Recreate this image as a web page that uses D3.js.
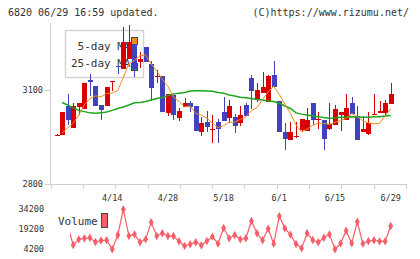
<!DOCTYPE html>
<html>
<head>
<meta charset="utf-8">
<script src="https://cdnjs.cloudflare.com/ajax/libs/d3/7.8.5/d3.min.js"></script>
<style>
  body { margin: 0; background: #fff; }
  text { font-family: "DejaVu Sans Mono", monospace; fill: #333; }
</style>
</head>
<body>
<svg width="420" height="259"></svg>
<script>
// trading days 3/31 .. 6/29
var dates = ["3/31","4/1","4/2","4/3","4/6","4/7","4/8","4/9","4/10","4/13",
  "4/14","4/15","4/16","4/17","4/20","4/21","4/22","4/23","4/24","4/27",
  "4/28","4/30","5/1","5/7","5/8","5/11","5/12","5/13","5/14","5/15",
  "5/18","5/19","5/20","5/21","5/22","5/25","5/26","5/27","5/28","5/29",
  "6/1","6/2","6/3","6/4","6/5","6/8","6/9","6/10","6/11","6/12",
  "6/15","6/16","6/17","6/18","6/19","6/22","6/23","6/24","6/25","6/26","6/29"];
var openP  = [2955,2956,3049,2979,3046,3039,3132,3113,3052,3049,3127,3177,3167,3199,3247,3189,3237,3183,3143,3145,
  3027,3084,3011,3046,3059,3049,2966,2998,2975,2998,3030,3011,3014,2995,3052,3138,3071,3090,3062,3148,
  3065,2966,2940,2952,2972,2969,3059,3006,3004,2976,2988,3020,3004,3059,3017,2966,2960,3022,3027,3027,3055];
var highP  = [2958,3030,3087,3059,3059,3122,3151,3113,3052,3110,3129,3177,3301,3307,3247,3221,3237,3193,3164,3145,
  3087,3084,3043,3074,3065,3049,3014,3033,3020,3007,3078,3068,3023,3049,3059,3148,3122,3157,3148,3193,
  3065,2995,2998,2998,3007,3043,3059,3030,3004,3059,3052,3030,3087,3078,3049,3017,3030,3087,3065,3068,3122];
var lowP   = [2955,2956,2988,2979,3020,3039,3081,3049,3004,3049,3097,3151,3167,3199,3141,3170,3189,3065,3122,3030,
  3017,3004,3001,3046,3030,2969,2953,2966,2931,2931,3001,2995,2963,2985,3017,3039,3062,3090,3062,3110,
  2966,2909,2940,2947,2966,2969,2988,2976,2909,2972,2988,2969,3004,3023,2940,2966,2956,3022,3027,3020,3055];
var closeP = [2957,3030,3004,3049,3059,3122,3126,3049,3036,3110,3129,3173,3253,3253,3167,3199,3189,3106,3146,3030,
  3087,3020,3033,3059,3046,2969,2995,2982,2977,2976,3001,3049,2985,3020,3017,3097,3100,3110,3145,3110,
  2966,2944,2966,2954,3007,3004,3004,3008,2944,2991,3039,3030,3043,3023,2940,2976,2995,3024,3033,3059,3087];
// moving averages (null = not drawn)
var ma5 = [null,2962,2979,2994,3020,3053,3072,3081,3078,3089,3090,3099,3140,3184,3195,3209,3212,3183,3161,3134,
  3112,3078,3063,3046,3049,3025,3020,3010,2994,2980,2986,2997,2998,3006,3014,3034,3044,3069,3094,3112,
  3086,3055,3026,2988,2967,2975,2987,2995,2993,2990,2997,3002,3009,3025,3015,3002,2995,2992,2994,3017,3040];
var ma25 = [null,3060,3052,3043,3035,3031,3027,3026,3027,3030,3035,3041,3046,3052,3059,3060,3063,3068,3073,3076,
  3082,3087,3090,3092,3097,3098,3098,3097,3096,3092,3090,3084,3081,3077,3075,3073,3070,3068,3065,3063,
  3058,3049,3041,3027,3023,3020,3017,3015,3012,3010,3011,3013,3014,3015,3014,3013,3013,3015,3015,3017,3019];
var volume = [null,null,22000,7200,11500,12300,12700,9500,10600,10900,4000,14800,34200,14000,15300,9300,11500,24400,14000,16100,
  14000,14000,10000,6500,7800,9300,7000,10200,13500,8200,20100,12300,14800,11500,12300,25400,16100,10800,19500,8200,
  29100,19800,15000,8000,4700,16100,11000,9300,12700,15300,4000,8500,18000,8500,24800,8200,10200,10800,10000,10000,21600];
var dateTicks = ["4/14","4/28","5/18","6/1","6/15","6/29"];
var priceTicks = [2800, 3100];
var volTicks = [4200, 19200, 34200];

var svg = d3.select("svg");
var red = "#d80000", blue = "#4242bd", orange = "#f08c1a", green = "#1ea51e", volColor = "#f55f69";

var x = d3.scaleLinear().domain([0, dates.length - 1]).range([56.5, 390.7]);
var y = d3.scaleLinear().domain([2800, 3100]).range([184, 90]);
var yv = d3.scaleLinear().domain([4200, 34200]).range([249, 209.3]);
var grid = d3.scaleLinear().domain([0, 11]).range([50.7, 405.9]);

// header
svg.append("text").attr("x", 8).attr("y", 16).attr("font-size", "10px").text("6820 06/29 16:59 updated.");
svg.append("text").attr("x", 409).attr("y", 16).attr("font-size", "10px").attr("text-anchor", "end")
  .text("(C)https://www.rizumu.net/");

// axes
var axisG = svg.append("g").attr("stroke", "#cfcfcf").attr("stroke-width", 1).attr("shape-rendering", "crispEdges");
axisG.append("line").attr("x1", 50.5).attr("x2", 50.5).attr("y1", 23).attr("y2", 184);
axisG.append("line").attr("x1", 45).attr("x2", 406).attr("y1", 184.5).attr("y2", 184.5);
axisG.append("line").attr("x1", 45).attr("x2", 50.5).attr("y1", y(3100) + 0.5).attr("y2", y(3100) + 0.5);
axisG.selectAll(".gt").data(d3.range(12)).enter().append("line")
  .attr("x1", function(d){ return Math.round(grid(d)) + 0.5; })
  .attr("x2", function(d){ return Math.round(grid(d)) + 0.5; })
  .attr("y1", 184).attr("y2", 189);

svg.selectAll(".pl").data(priceTicks).enter().append("text")
  .attr("x", 43).attr("y", function(d){ return y(d) + 3; })
  .attr("text-anchor", "end").attr("font-size", "8.5px").text(function(d){ return d; });

svg.selectAll(".dl").data(dateTicks).enter().append("text")
  .attr("x", function(d){ return x(dates.indexOf(d)); }).attr("y", 201)
  .attr("text-anchor", "middle").attr("font-size", "8.5px").text(function(d){ return d; });

// legend box (drawn under candles)
svg.append("rect").attr("x", 65.5).attr("y", 30.5).attr("width", 78).attr("height", 47)
  .attr("fill", "#fff").attr("stroke", "#d4d4d4").attr("stroke-width", 1.5);
svg.append("text").attr("x", 130.5).attr("y", 49.5).attr("text-anchor", "end").attr("font-size", "11px").text("5-day MA");
svg.append("text").attr("x", 130.5).attr("y", 66.5).attr("text-anchor", "end").attr("font-size", "11px").text("25-day MA");
svg.append("rect").attr("x", 131.5).attr("y", 37.5).attr("width", 6).attr("height", 7)
  .attr("fill", orange).attr("stroke", "#444");
svg.append("rect").attr("x", 131.5).attr("y", 63.5).attr("width", 6).attr("height", 7)
  .attr("fill", green).attr("stroke", "#444");

// candles
var idx = d3.range(dates.length);
var cg = svg.append("g").attr("shape-rendering", "crispEdges");
cg.selectAll(".wick").data(idx).enter().append("line")
  .attr("x1", function(i){ return Math.round(x(i)) + 0.5; })
  .attr("x2", function(i){ return Math.round(x(i)) + 0.5; })
  .attr("y1", function(i){ return y(highP[i]); })
  .attr("y2", function(i){ return y(lowP[i]); })
  .attr("stroke", function(i){ return closeP[i] >= openP[i] ? red : blue; });
cg.selectAll(".body").data(idx).enter().append("rect")
  .attr("x", function(i){ return Math.round(x(i)) - 2; })
  .attr("width", 5)
  .attr("y", function(i){ return y(Math.max(openP[i], closeP[i])); })
  .attr("height", function(i){ return Math.max(1, Math.abs(y(openP[i]) - y(closeP[i]))); })
  .attr("fill", function(i){ return closeP[i] >= openP[i] ? red : blue; });

// moving averages
function maLine(arr) {
  return d3.line().defined(function(i){ return arr[i] != null; })
    .x(function(i){ return x(i); }).y(function(i){ return y(arr[i]); });
}
svg.append("path").datum(idx).attr("d", maLine(ma25)).attr("fill", "none").attr("stroke", green).attr("stroke-width", 1.5);
svg.append("path").datum(idx).attr("d", maLine(ma5)).attr("fill", "none").attr("stroke", orange).attr("stroke-width", 1);

// volume
svg.append("clipPath").attr("id", "vclip").append("rect").attr("x", 70).attr("y", 200).attr("width", 340).attr("height", 59);
svg.selectAll(".vl").data(volTicks).enter().append("text")
  .attr("x", 44).attr("y", function(d){ return yv(d) + 3; })
  .attr("text-anchor", "end").attr("font-size", "8.5px").text(function(d){ return d; });
svg.append("text").attr("x", 58).attr("y", 225).attr("font-size", "11px").text("Volume");
svg.append("rect").attr("x", 101.5).attr("y", 213.5).attr("width", 6).attr("height", 14)
  .attr("fill", volColor).attr("stroke", "#444");

var vg = svg.append("g").attr("clip-path", "url(#vclip)");
vg.append("path").datum(idx).attr("d", d3.line().defined(function(i){ return volume[i] != null; })
    .x(function(i){ return x(i); }).y(function(i){ return yv(volume[i]); }))
  .attr("fill", "none").attr("stroke", volColor).attr("stroke-width", 1.2);
vg.selectAll(".vm").data(idx.filter(function(i){ return volume[i] != null; })).enter().append("path")
  .attr("transform", function(i){ return "translate(" + x(i) + "," + yv(volume[i]) + ")"; })
  .attr("d", d3.symbol().type(d3.symbolDiamond).size(20))
  .attr("fill", volColor);
</script>
</body>
</html>
